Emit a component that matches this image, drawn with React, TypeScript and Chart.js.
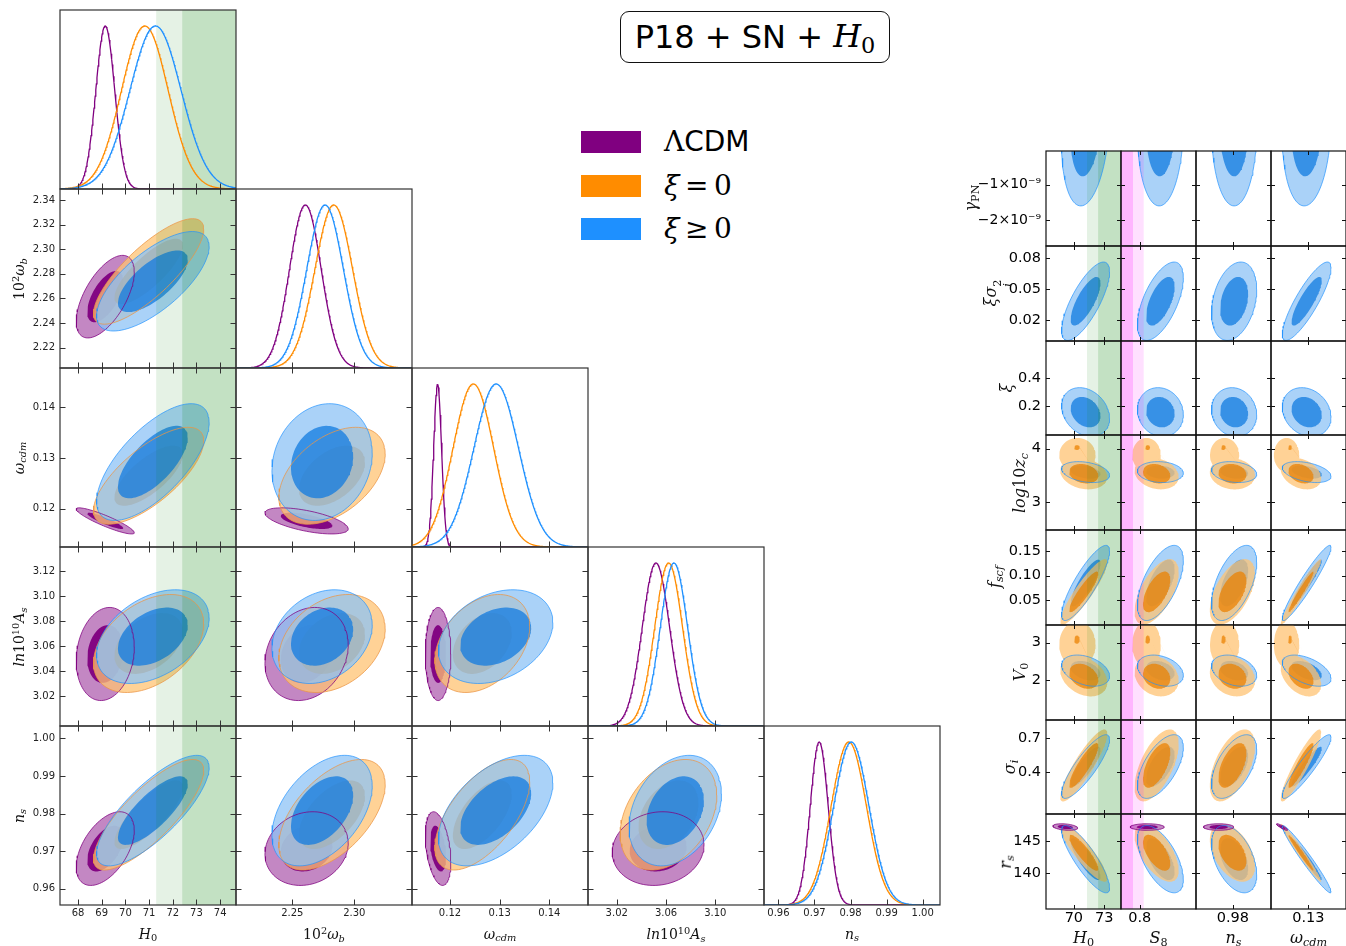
import React, { useEffect, useRef } from "react";
import { Chart, registerables } from "chart.js";

Chart.register(...registerables);

/* ============================ DATA ============================ */

// models: 0 = LCDM (purple), 1 = xi = 0 (orange), 2 = xi >= 0 (blue)
const MODEL_COLORS = ["#800080", "#ff8c00", "#1e90ff"];
const FILL_OUTER = ["rgba(175,95,175,0.75)", "rgba(255,195,115,0.75)", "rgba(141,195,246,0.75)"];
const FILL_INNER = ["rgba(128,0,128,0.95)", "rgba(235,130,3,0.75)", "rgba(17,123,224,0.75)"];
const OUTLINE_COLORS = ["rgba(128,0,128,0.85)", "rgba(235,150,70,0.85)", "rgba(30,144,255,0.75)"];

const PARAM_KEYS = ["H0", "wb", "wc", "As", "ns", "S8", "gPN", "xs2", "xi", "lzc", "fscf", "V0", "si", "rs"];

// axis limits (gPN in units of 1e-9)
const AXIS_X_MIN = [67.24, 2.2046, 0.11235, 2.9967, 0.956, 0.75, null, null, null, null, null, null, null, null];
const AXIS_X_MAX = [74.67, 2.3465, 0.14779, 3.1395, 1.0048, 0.95, null, null, null, null, null, null, null, null];
const AXIS_Y_MIN = [null, 2.2035, 0.11245, 2.996, 0.9557, null, -2.74, 0, 0, 2.475, 0, 0.93, 0.03, 134.4];
const AXIS_Y_MAX = [null, 2.349, 0.14775, 3.1392, 1.0033, null, -0.05, 0.092, 0.658, 4.255, 0.192, 3.47, 0.862, 149.27];
const DIAG_Y_MAX = 1.098;

// triangle
const TRI_KEYS = ["H0", "wb", "wc", "As", "ns"];
const TRI_X_TICKS = [
  ["68", "69", "70", "71", "72", "73", "74"],
  ["2.25", "2.30"],
  ["0.12", "0.13", "0.14"],
  ["3.02", "3.06", "3.10"],
  ["0.96", "0.97", "0.98", "0.99", "1.00"],
];
const TRI_Y_TICKS = [
  [],
  ["2.22", "2.24", "2.26", "2.28", "2.30", "2.32", "2.34"],
  ["0.12", "0.13", "0.14"],
  ["3.02", "3.04", "3.06", "3.08", "3.10", "3.12"],
  ["0.96", "0.97", "0.98", "0.99", "1.00"],
];

// 1D marginals (triangle params order)
const PEAK_LCDM = [69.15, 2.2605, 0.1175, 3.0518, 0.9713];
const PEAK_XI0 = [70.82, 2.2834, 0.1247, 3.0621, 0.9795];
const PEAK_XIP = [71.27, 2.2764, 0.1293, 3.0664, 0.9802];
const WIDTH_LCDM = [0.4, 0.0128, 0.0008, 0.0111, 0.0025];
const WIDTH_XI0 = [0.985, 0.0152, 0.0041, 0.0113, 0.0049];
const WIDTH_XIP = [1.08, 0.0148, 0.0045, 0.0111, 0.0049];

// 2D contour centres / spreads (PARAM_KEYS order)
const CENTER_LCDM = [69.15, 2.2615, 0.1176, 3.0536, 0.9707, 0.82, null, null, null, null, null, null, null, 147.23];
const SPREAD_LCDM = [0.5, 0.0137, 0.00105, 0.0152, 0.004, 0.0185, null, null, null, null, null, null, null, 0.21];
const CENTER_XI0 = [70.98, 2.282, 0.1265, 3.062, 0.9797, 0.845, null, null, null, 3.53, 0.067, 2.1, 0.46, 143.2];
const SPREAD_XI0 = [0.95, 0.0175, 0.0039, 0.016, 0.006, 0.024, null, null, null, 0.12, 0.027, 0.22, 0.13, 1.85];
const CENTER_XIP = [71.16, 2.274, 0.1292, 3.0675, 0.9808, 0.855, 0.6, 0.0385, 0.16, 3.56, 0.085, 2.25, 0.45, 142.2];
const SPREAD_XIP = [0.97, 0.0165, 0.0047, 0.0153, 0.006, 0.025, 0.9, 0.0155, 0.07, 0.08, 0.031, 0.17, 0.115, 2.15];

// correlations for triangle pairs [x, y]
const TRI_PAIRS = [[0, 1], [0, 2], [0, 3], [0, 4], [1, 2], [1, 3], [1, 4], [2, 3], [2, 4], [3, 4]];
const RHO_TRI_LCDM = [0.6, -0.9, 0.15, 0.5, -0.6, 0.2, 0.15, 0.0, -0.35, 0.1];
const RHO_TRI_XI0 = [0.8, 0.72, 0.4, 0.8, 0.45, 0.3, 0.55, 0.35, 0.6, 0.35];
const RHO_TRI_XIP = [0.7, 0.68, 0.4, 0.78, 0.15, 0.25, 0.45, 0.3, 0.5, 0.3];

// right block
const RIGHT_COL_KEYS = ["H0", "S8", "ns", "wc"];
const RIGHT_ROW_KEYS = ["gPN", "xs2", "xi", "lzc", "fscf", "V0", "si", "rs"];
const RIGHT_X_TICKS = [["70", "73"], ["0.8"], ["0.98"], ["0.13"]];
const RIGHT_Y_TICK_VALUES = [[-1, -2], [0.02, 0.05, 0.08], [0.2, 0.4], [3, 4], [0.05, 0.1, 0.15], [2, 3], [0.4, 0.7], [140, 145]];
const RIGHT_Y_TICK_LABELS = [
  ["\u22121\u00d710\u207b\u2079", "\u22122\u00d710\u207b\u2079"],
  ["0.02", "0.05", "0.08"],
  ["0.2", "0.4"],
  ["3", "4"],
  ["0.05", "0.10", "0.15"],
  ["2", "3"],
  ["0.4", "0.7"],
  ["140", "145"],
];
// correlations [row][col]
const RHO_RIGHT_LCDM = [
  [null, null, null, null], [null, null, null, null], [null, null, null, null], [null, null, null, null],
  [null, null, null, null], [null, null, null, null], [null, null, null, null], [-0.3, 0.0, 0.0, -0.9],
];
const RHO_RIGHT_XI0 = [
  [null, null, null, null], [null, null, null, null], [null, null, null, null],
  [-0.2, -0.2, -0.1, -0.3],
  [0.9, 0.6, 0.55, 0.97],
  [-0.3, -0.2, -0.2, -0.4],
  [0.88, 0.6, 0.55, 0.92],
  [-0.88, -0.6, -0.45, -0.98],
];
const RHO_RIGHT_XIP = [
  [0.2, 0.05, 0.0, 0.1],
  [0.75, 0.6, 0.3, 0.85],
  [-0.25, -0.1, -0.1, -0.2],
  [-0.3, -0.1, -0.2, -0.4],
  [0.85, 0.6, 0.55, 0.95],
  [-0.35, -0.3, -0.3, -0.5],
  [0.85, 0.6, 0.55, 0.92],
  [-0.85, -0.6, -0.45, -0.97],
];
// secondary high-z_c lobe of the xi = 0 posterior (rows lzc and V0)
const LOBE_ROWS = ["lzc", "V0"];
const LOBE_Y = [3.88, 2.95];
const LOBE_RY = [0.32, 0.62];
const DOT_Y = [4.02, 3.08];
const DOT_RY = [0.045, 0.11];
const LOBE_X = [70.35, 0.818, 0.9746, 0.1197];
const LOBE_RX = [1.8, 0.038, 0.0095, 0.006];
const DOT_X = [70.3, 0.821, 0.9738, 0.1213];
const DOT_RX = [0.28, 0.0065, 0.0015, 0.0009];

// vertical bands
const H0_BAND_LO = [71.3, 72.4];
const H0_BAND_HI = [76.0, 76.0];
const H0_BAND_ALPHA = [0.1, 0.15];
const S8_BAND_LO = [0.7, 0.7];
const S8_BAND_HI = [0.8105, 0.782];
const S8_BAND_ALPHA = [0.12, 0.19];

const K_INNER = 1.52;
const K_OUTER = 2.45;

/* ============================ LAYOUT ============================ */
const TRI_LEFT = 60, TRI_TOP = 10, TRI_W = 176, TRI_H = 179;
const R_LEFT = 1046, R_TOP = 151, R_W = 75, R_H = 94.75;
const PAD = 2;

const CENTERS = [CENTER_LCDM, CENTER_XI0, CENTER_XIP];
const SPREADS = [SPREAD_LCDM, SPREAD_XI0, SPREAD_XIP];
const PEAKS = [PEAK_LCDM, PEAK_XI0, PEAK_XIP];
const WIDTHS = [WIDTH_LCDM, WIDTH_XI0, WIDTH_XIP];
const RHO_TRI = [RHO_TRI_LCDM, RHO_TRI_XI0, RHO_TRI_XIP];
const RHO_RIGHT = [RHO_RIGHT_LCDM, RHO_RIGHT_XI0, RHO_RIGHT_XIP];

const pk = (k: string) => PARAM_KEYS.indexOf(k);

function ellipse(cx: number, cy: number, sx: number, sy: number, rho: number, k: number, n = 96) {
  const pts: { x: number; y: number }[] = [];
  const c = Math.sqrt(Math.max(0, 1 - rho * rho));
  for (let i = 0; i <= n; i++) {
    const t = (2 * Math.PI * i) / n;
    pts.push({ x: cx + k * sx * Math.cos(t), y: cy + k * sy * (rho * Math.cos(t) + c * Math.sin(t)) });
  }
  return pts;
}
function axisEllipse(cx: number, cy: number, rx: number, ry: number, n = 64) {
  const pts: { x: number; y: number }[] = [];
  for (let i = 0; i <= n; i++) {
    const t = (2 * Math.PI * i) / n;
    pts.push({ x: cx + rx * Math.cos(t), y: cy + ry * Math.sin(t) });
  }
  return pts;
}
function curve1D(xmin: number, xmax: number, peak: number, width: number, n = 300) {
  const pts: { x: number; y: number }[] = [];
  for (let i = 0; i <= n; i++) {
    const x = xmin + ((xmax - xmin) * i) / n;
    pts.push({ x, y: Math.exp(-0.5 * ((x - peak) / width) ** 2) });
  }
  return pts;
}
function fillDs(pts: any[], color: string, seq: number) {
  return { data: pts, fill: "shape", backgroundColor: color, borderColor: "rgba(0,0,0,0)", borderWidth: 0, pointRadius: 0, clip: 0, order: 1000 - seq };
}
function lineDs(pts: any[], color: string, width: number, seq: number) {
  return { data: pts, fill: false, borderColor: color, backgroundColor: "rgba(0,0,0,0)", borderWidth: width, pointRadius: 0, clip: 0, order: 1000 - seq };
}
function bandDs(lo: number, hi: number, ymin: number, ymax: number, color: string, seq: number) {
  const span = ymax - ymin;
  const pts = [
    { x: lo, y: ymin - span }, { x: hi, y: ymin - span }, { x: hi, y: ymax + span }, { x: lo, y: ymax + span }, { x: lo, y: ymin - span },
  ];
  return fillDs(pts, color, seq);
}

type Tick = { v: number; l: string };
type Panel = {
  left: number; top: number; w: number; h: number;
  xmin: number; xmax: number; ymin: number; ymax: number;
  xt: Tick[]; yt: Tick[];
  showX: boolean; showY: boolean;
  fontSize: number; yLabelW: number; xLabelH: number; xPad: number; yPad: number;
  tickLen: number; sides: { top: boolean; bottom: boolean; left: boolean; right: boolean };
  frameColor: string; textColor: string;
  datasets: any[];
};

function buildPanels(): Panel[] {
  const panels: Panel[] = [];
  // ---------- triangle ----------
  for (let r = 0; r < 5; r++) {
    for (let c = 0; c <= r; c++) {
      const xi = pk(TRI_KEYS[c]);
      const yi = pk(TRI_KEYS[r]);
      const diag = r === c;
      const xmin = AXIS_X_MIN[xi] as number, xmax = AXIS_X_MAX[xi] as number;
      const ymin = diag ? 0 : (AXIS_Y_MIN[yi] as number);
      const ymax = diag ? DIAG_Y_MAX : (AXIS_Y_MAX[yi] as number);
      const ds: any[] = [];
      let seq = 0;
      const addBands = () => {
        if (c === 0) {
          for (let b = 0; b < H0_BAND_LO.length; b++)
            ds.push(bandDs(H0_BAND_LO[b], H0_BAND_HI[b], ymin, ymax, `rgba(0,128,0,${H0_BAND_ALPHA[b]})`, seq++));
        }
      };
      if (diag) {
        addBands();
        for (let m = 0; m < 3; m++) ds.push(lineDs(curve1D(xmin, xmax, PEAKS[m][c], WIDTHS[m][c]), MODEL_COLORS[m], 1.3, seq++));
      } else {
        const p = TRI_PAIRS.findIndex((q) => q[0] === c && q[1] === r);
        const outers: any[] = [];
        for (let m = 0; m < 3; m++) {
          const cx = CENTERS[m][xi] as number, cy = CENTERS[m][yi] as number;
          const sx = SPREADS[m][xi] as number, sy = SPREADS[m][yi] as number;
          const rho = RHO_TRI[m][p];
          const out = ellipse(cx, cy, sx, sy, rho, K_OUTER);
          outers.push(out);
          ds.push(fillDs(out, FILL_OUTER[m], seq++));
          ds.push(fillDs(ellipse(cx, cy, sx, sy, rho, K_INNER), FILL_INNER[m], seq++));
        }
        addBands();
        for (let m = 0; m < 3; m++) ds.push(lineDs(outers[m], OUTLINE_COLORS[m], 0.9, seq++));
      }
      panels.push({
        left: TRI_LEFT + c * TRI_W, top: TRI_TOP + r * TRI_H, w: TRI_W, h: TRI_H,
        xmin, xmax, ymin, ymax,
        xt: TRI_X_TICKS[c].map((l) => ({ v: parseFloat(l), l })),
        yt: diag ? [] : TRI_Y_TICKS[r].map((l) => ({ v: parseFloat(l), l })),
        showX: r === 4, showY: c === 0 && !diag,
        fontSize: 10, yLabelW: 55, xLabelH: 24, xPad: 2, yPad: 5,
        tickLen: 5.5,
        sides: diag ? { top: false, bottom: true, left: false, right: false } : { top: true, bottom: true, left: true, right: true },
        frameColor: "#333", textColor: "#222",
        datasets: ds,
      });
    }
  }
  // ---------- right block ----------
  for (let r = 0; r < RIGHT_ROW_KEYS.length; r++) {
    for (let c = 0; c < RIGHT_COL_KEYS.length; c++) {
      const xi = pk(RIGHT_COL_KEYS[c]);
      const yi = pk(RIGHT_ROW_KEYS[r]);
      const xmin = AXIS_X_MIN[xi] as number, xmax = AXIS_X_MAX[xi] as number;
      const ymin = AXIS_Y_MIN[yi] as number, ymax = AXIS_Y_MAX[yi] as number;
      const ds: any[] = [];
      let seq = 0;
      const outers: any[] = [null, null, null];
      const lobeRow = LOBE_ROWS.indexOf(RIGHT_ROW_KEYS[r]);
      for (const m of [2, 1, 0]) {
        const rho = RHO_RIGHT[m][r][c];
        if (rho === null || CENTERS[m][yi] === null) continue;
        const cx = CENTERS[m][xi] as number, cy = CENTERS[m][yi] as number;
        const sx = SPREADS[m][xi] as number, sy = SPREADS[m][yi] as number;
        let out = ellipse(cx, cy, sx, sy, rho, K_OUTER);
        let inn = ellipse(cx, cy, sx, sy, rho, K_INNER);
        outers[m] = out;
        if (m === 1 && lobeRow >= 0) {
          out = out.concat(axisEllipse(LOBE_X[c], LOBE_Y[lobeRow], LOBE_RX[c], LOBE_RY[lobeRow]), [out[0]]);
          inn = inn.concat(axisEllipse(DOT_X[c], DOT_Y[lobeRow], DOT_RX[c], DOT_RY[lobeRow]), [inn[0]]);
        }
        ds.push(fillDs(out, FILL_OUTER[m], seq++));
        ds.push(fillDs(inn, FILL_INNER[m], seq++));
      }
      if (c === 0) {
        for (let b = 0; b < H0_BAND_LO.length; b++)
          ds.push(bandDs(H0_BAND_LO[b], H0_BAND_HI[b], ymin, ymax, `rgba(0,128,0,${H0_BAND_ALPHA[b]})`, seq++));
      }
      if (c === 1) {
        for (let b = 0; b < S8_BAND_LO.length; b++)
          ds.push(bandDs(S8_BAND_LO[b], S8_BAND_HI[b], ymin, ymax, `rgba(255,0,255,${S8_BAND_ALPHA[b]})`, seq++));
      }
      for (const m of [2, 0]) if (outers[m]) ds.push(lineDs(outers[m], OUTLINE_COLORS[m], 0.9, seq++));
      const top = Math.round(R_TOP + r * R_H);
      const bottom = Math.round(R_TOP + (r + 1) * R_H);
      panels.push({
        left: R_LEFT + c * R_W, top, w: R_W, h: bottom - top,
        xmin, xmax, ymin, ymax,
        xt: RIGHT_X_TICKS[c].map((l) => ({ v: parseFloat(l), l })),
        yt: RIGHT_Y_TICK_VALUES[r].map((v, i) => ({ v, l: RIGHT_Y_TICK_LABELS[r][i] })),
        showX: r === RIGHT_ROW_KEYS.length - 1, showY: c === 0,
        fontSize: r === 0 ? 14 : 14.5, yLabelW: 74, xLabelH: 24, xPad: 1, yPad: 5,
        tickLen: 4,
        sides: { top: true, bottom: true, left: true, right: true },
        frameColor: "#111", textColor: "#000",
        datasets: ds,
      });
    }
  }
  return panels;
}

const PANELS = buildPanels();

function makeConfig(p: Panel) {
  const framePlugin = {
    id: "frameTicks",
    afterDraw(chart: any) {
      const { ctx, chartArea: a, scales } = chart;
      ctx.save();
      ctx.strokeStyle = p.frameColor;
      ctx.lineWidth = 1;
      ctx.beginPath();
      for (const t of p.xt) {
        if (t.v < p.xmin || t.v > p.xmax) continue;
        const px = Math.round(scales.x.getPixelForValue(t.v)) + 0.5;
        if (p.sides.bottom) { ctx.moveTo(px, a.bottom); ctx.lineTo(px, a.bottom - p.tickLen); }
        if (p.sides.top) { ctx.moveTo(px, a.top); ctx.lineTo(px, a.top + p.tickLen); }
      }
      for (const t of p.yt) {
        if (t.v < p.ymin || t.v > p.ymax) continue;
        const py = Math.round(scales.y.getPixelForValue(t.v)) + 0.5;
        if (p.sides.left) { ctx.moveTo(a.left, py); ctx.lineTo(a.left + p.tickLen, py); }
        if (p.sides.right) { ctx.moveTo(a.right, py); ctx.lineTo(a.right - p.tickLen, py); }
      }
      ctx.stroke();
      ctx.lineWidth = 1.2;
      ctx.strokeRect(a.left, a.top, a.right - a.left, a.bottom - a.top);
      ctx.restore();
    },
  };
  const font = { family: "'DejaVu Sans', sans-serif", size: p.fontSize };
  return {
    type: "line",
    data: { datasets: p.datasets },
    options: {
      animation: false,
      responsive: false,
      events: [],
      layout: { padding: { left: PAD, right: PAD, top: PAD, bottom: PAD } },
      plugins: { legend: { display: false }, tooltip: { enabled: false }, colors: { enabled: false } },
      elements: { line: { tension: 0 }, point: { radius: 0 } },
      scales: {
        x: {
          type: "linear", position: "bottom", min: p.xmin, max: p.xmax,
          grid: { display: false, drawTicks: false }, border: { display: false },
          ticks: {
            display: p.showX, font, color: p.textColor, padding: p.xPad, maxRotation: 0, minRotation: 0, autoSkip: false,
            callback: (v: number) => { const t = p.xt.find((q) => Math.abs(q.v - v) < 1e-9); return t ? t.l : ""; },
          },
          afterBuildTicks: (s: any) => { s.ticks = p.xt.filter((t) => t.v >= p.xmin && t.v <= p.xmax).map((t) => ({ value: t.v })); },
          afterFit: (s: any) => { s.height = p.showX ? p.xLabelH : 0; s.paddingLeft = 0; s.paddingRight = 0; s.paddingTop = 0; s.paddingBottom = 0; },
        },
        y: {
          type: "linear", position: "left", min: p.ymin, max: p.ymax,
          grid: { display: false, drawTicks: false }, border: { display: false },
          ticks: {
            display: p.showY, font, color: p.textColor, padding: p.yPad, autoSkip: false,
            callback: (v: number) => { const t = p.yt.find((q) => Math.abs(q.v - v) < 1e-12); return t ? t.l : ""; },
          },
          afterBuildTicks: (s: any) => { s.ticks = p.yt.filter((t) => t.v >= p.ymin && t.v <= p.ymax).map((t) => ({ value: t.v })); },
          afterFit: (s: any) => { s.width = p.showY ? p.yLabelW : 0; s.paddingLeft = 0; s.paddingRight = 0; s.paddingTop = 0; s.paddingBottom = 0; },
        },
      },
    },
    plugins: [framePlugin],
  } as any;
}

/* ============================ TEXT ============================ */
const SERIF = "'DejaVu Serif', serif";
const SANS = "'DejaVu Sans', sans-serif";
const Sub = ({ children }: { children: React.ReactNode }) => (
  <span style={{ fontSize: "0.7em", verticalAlign: "-0.28em" }}>{children}</span>
);
const Sup = ({ children }: { children: React.ReactNode }) => (
  <span style={{ fontSize: "0.7em", verticalAlign: "0.5em" }}>{children}</span>
);

const LBL: Record<string, React.ReactNode> = {
  H0: <><i>H</i><Sub>0</Sub></>,
  wb: <>10<Sup>2</Sup><i>ω</i><Sub><i>b</i></Sub></>,
  wc: <><i>ω</i><Sub><i>cdm</i></Sub></>,
  As: <><i>ln</i>10<Sup>10</Sup><i>A</i><Sub><i>s</i></Sub></>,
  ns: <><i>n</i><Sub><i>s</i></Sub></>,
  S8: <><i>S</i><Sub>8</Sub></>,
  gPN: <><i>γ</i><Sub>PN</Sub></>,
  xs2: (
    <>
      <i>ξσ</i>
      <span style={{ display: "inline-flex", flexDirection: "column", fontSize: "0.7em", lineHeight: 0.9, verticalAlign: "-0.45em" }}>
        <span>2</span>
        <i>i</i>
      </span>
    </>
  ),
  xi: <i>ξ</i>,
  lzc: <><i>log</i>10<i>z</i><Sub><i>c</i></Sub></>,
  fscf: <><i>f</i><Sub><i>scf</i></Sub></>,
  V0: <><i>V</i><Sub>0</Sub></>,
  si: <><i>σ</i><Sub><i>i</i></Sub></>,
  rs: <><i>r</i><Sub><i>s</i></Sub></>,
};

const RIGHT_YLABEL_X = [972, 998, 1007, 1021, 996, 1021, 1011, 1007];

function XLabel({ k, cx, cy, size }: { k: string; cx: number; cy: number; size: number }) {
  return (
    <div style={{ position: "absolute", left: cx, top: cy, transform: "translate(-50%,-50%)", fontFamily: SERIF, fontSize: size, lineHeight: 1, whiteSpace: "nowrap", color: "#111" }}>
      {LBL[k]}
    </div>
  );
}
function YLabel({ k, cx, cy, size }: { k: string; cx: number; cy: number; size: number }) {
  return (
    <div style={{ position: "absolute", left: cx, top: cy, transform: "translate(-50%,-50%) rotate(-90deg)", fontFamily: SERIF, fontSize: size, lineHeight: 1, whiteSpace: "nowrap", color: "#111" }}>
      {LBL[k]}
    </div>
  );
}

export default function App() {
  const refs = useRef<(HTMLCanvasElement | null)[]>([]);
  useEffect(() => {
    const charts = PANELS.map((p, i) => new Chart(refs.current[i] as HTMLCanvasElement, makeConfig(p)));
    return () => charts.forEach((c) => c.destroy());
  }, []);

  return (
    <div style={{ position: "absolute", left: 0, top: 0, width: 1346, height: 946, overflow: "hidden", background: "#fff" }}>
      {PANELS.map((p, i) => {
        const yw = p.showY ? p.yLabelW : 0;
        const xh = p.showX ? p.xLabelH : 0;
        const W = p.w + 2 * PAD + yw;
        const H = p.h + 2 * PAD + xh;
        return (
          <canvas
            key={i}
            ref={(el) => { refs.current[i] = el; }}
            width={W}
            height={H}
            style={{ position: "absolute", left: p.left - PAD - yw, top: p.top - PAD, width: W, height: H }}
          />
        );
      })}

      {/* triangle axis labels */}
      {TRI_KEYS.map((k, c) => (
        <XLabel key={"tx" + k} k={k} cx={TRI_LEFT + c * TRI_W + TRI_W / 2} cy={935} size={14} />
      ))}
      {TRI_KEYS.slice(1).map((k, i) => (
        <YLabel key={"ty" + k} k={k} cx={20} cy={TRI_TOP + (i + 1) * TRI_H + TRI_H / 2} size={14} />
      ))}

      {/* right block axis labels */}
      {RIGHT_COL_KEYS.map((k, c) => (
        <XLabel key={"rx" + k} k={k} cx={R_LEFT + c * R_W + R_W / 2} cy={939} size={16} />
      ))}
      {RIGHT_ROW_KEYS.map((k, r) => (
        <YLabel key={"ry" + k} k={k} cx={RIGHT_YLABEL_X[r]} cy={R_TOP + r * R_H + R_H / 2} size={16} />
      ))}

      {/* title box */}
      <div
        style={{
          position: "absolute", left: 620, top: 11, width: 270, height: 52, boxSizing: "border-box",
          border: "1.5px solid #111", borderRadius: 9, display: "flex", alignItems: "center", justifyContent: "center",
          fontFamily: SANS, fontSize: 32, color: "#000", whiteSpace: "nowrap",
        }}
      >
        <span>P18 + SN +&nbsp;</span>
        <span style={{ fontFamily: SERIF }}>
          <i>H</i>
          <span style={{ fontSize: "0.7em", verticalAlign: "-0.25em" }}>0</span>
        </span>
      </div>

      {/* legend */}
      {[0, 1, 2].map((m) => (
        <div key={"lg" + m} style={{ position: "absolute", left: 581, top: 131 + m * 43.5, width: 60, height: 22, background: MODEL_COLORS[m] }} />
      ))}
      <div style={{ position: "absolute", left: 664, top: 142, transform: "translateY(-50%)", fontSize: 28, lineHeight: 1, whiteSpace: "nowrap", color: "#000" }}>
        <span style={{ fontFamily: SERIF }}>Λ</span>
        <span style={{ fontFamily: SANS }}>CDM</span>
      </div>
      <div style={{ position: "absolute", left: 664, top: 185.5, transform: "translateY(-50%)", fontSize: 28, lineHeight: 1, whiteSpace: "nowrap", fontFamily: SERIF, color: "#000" }}>
        <i>ξ</i>{"\u2009=\u20090"}
      </div>
      <div style={{ position: "absolute", left: 664, top: 229, transform: "translateY(-50%)", fontSize: 28, lineHeight: 1, whiteSpace: "nowrap", fontFamily: SERIF, color: "#000" }}>
        <i>ξ</i>{"\u2009\u2265\u20090"}
      </div>
    </div>
  );
}
